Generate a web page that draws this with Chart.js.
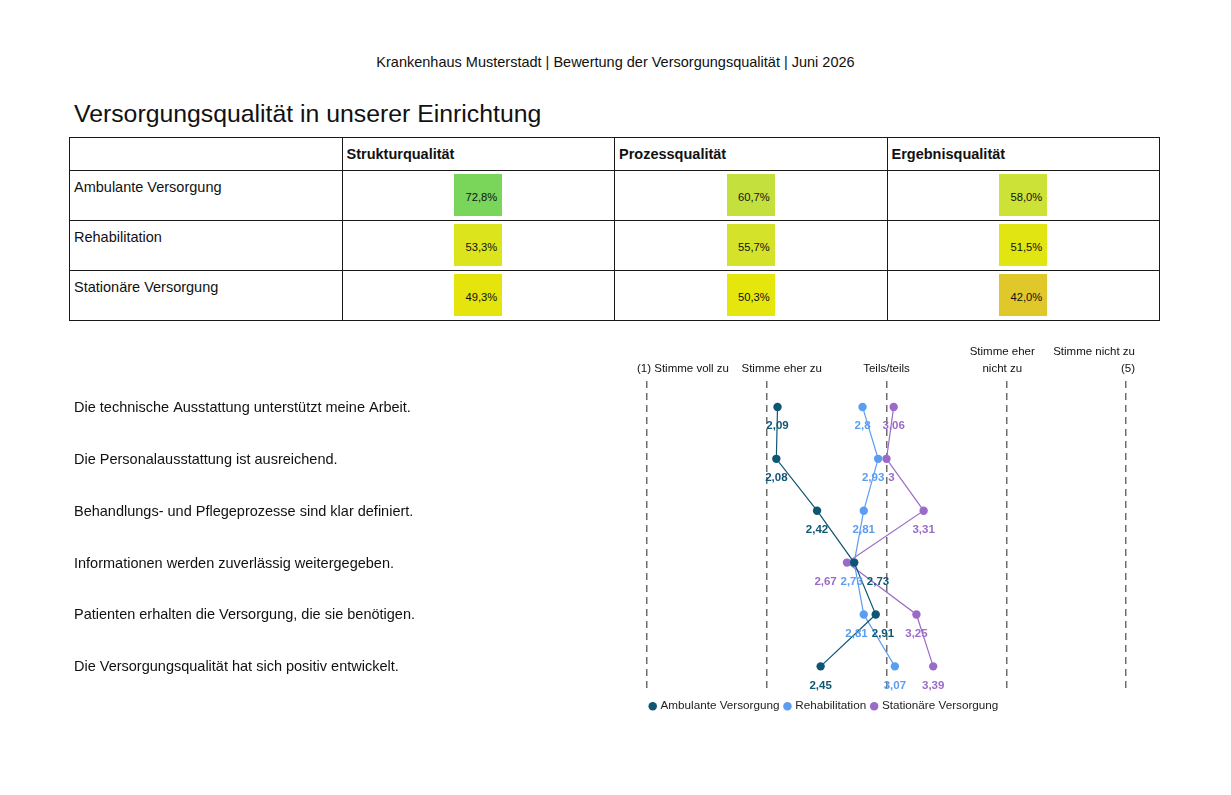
<!DOCTYPE html>
<html lang="de">
<head>
<meta charset="utf-8">
<title>Versorgungsqualität in unserer Einrichtung</title>
<script src="https://cdn.jsdelivr.net/npm/chart.js@4.4.1/dist/chart.umd.min.js"></script>
<style>
  html, body { margin: 0; padding: 0; background: #fff; }
  body { width: 1231px; height: 795px; position: relative; overflow: hidden;
         font-family: "Liberation Sans", Arial, Helvetica, sans-serif; color: #111; }
  #kopf { position: absolute; left: 0; width: 1231px; top: 55px; text-align: center;
          font-size: 14.5px; line-height: 14.5px; }
  #titel { position: absolute; left: 74px; top: 102px; font-size: 24.8px; line-height: 24.8px; }
  #tabelle { position: absolute; left: 69px; top: 137px; width: 1091px;
             border-collapse: collapse; table-layout: fixed; }
  #tabelle th, #tabelle td { border: 1px solid #1a1a1a; padding: 0; font-size: 14.5px; }
  #tabelle tr.kopf { height: 33px; }
  #tabelle tr.zeile { height: 50px; }
  #tabelle th { text-align: left; padding-left: 4px; font-weight: bold; }
  #tabelle td { vertical-align: top; }
  #tabelle td.name { padding: 8px 0 0 4px; }
  .wert { width: 48px; height: 42px; margin: 3px auto 0; box-sizing: border-box;
          padding: 17px 5px 0 0; text-align: right; font-size: 11.2px; line-height: 13px; }
  #diagramm { position: absolute; left: 0; top: 331px; width: 1231px; height: 400px; }
</style>
</head>
<body>
<div id="kopf">Krankenhaus Musterstadt | Bewertung der Versorgungsqualität | Juni 2026</div>
<div id="titel">Versorgungsqualität in unserer Einrichtung</div>
<table id="tabelle"></table>
<div id="diagramm"><canvas id="chart"></canvas></div>

<script>
// Tabelle
var tableRows = ['Ambulante Versorgung', 'Rehabilitation', 'Stationäre Versorgung'];
var tableCols = ['Strukturqualität', 'Prozessqualität', 'Ergebnisqualität'];
var strukturWerte = [72.8, 53.3, 49.3];
var prozessWerte = [60.7, 55.7, 50.3];
var ergebnisWerte = [58.0, 51.5, 42.0];

// Diagramm
var statements = [
    'Die technische Ausstattung unterstützt meine Arbeit.',
    'Die Personalausstattung ist ausreichend.',
    'Behandlungs- und Pflegeprozesse sind klar definiert.',
    'Informationen werden zuverlässig weitergegeben.',
    'Patienten erhalten die Versorgung, die sie benötigen.',
    'Die Versorgungsqualität hat sich positiv entwickelt.'
];
var seriesNames = ['Ambulante Versorgung', 'Rehabilitation', 'Stationäre Versorgung'];
var ambulant = [2.09, 2.08, 2.42, 2.73, 2.91, 2.45];
var rehabilitation = [2.8, 2.93, 2.81, 2.73, 2.81, 3.07];
var stationaer = [3.06, 3, 3.31, 2.67, 3.25, 3.39];
var scaleValues = [1, 2, 3, 4, 5];
var scaleLabels = [
    ['(1) Stimme voll zu'],
    ['Stimme eher zu'],
    ['Teils/teils'],
    ['Stimme eher', 'nicht zu'],
    ['Stimme nicht zu', '(5)']
];

var FONT = '"Liberation Sans", Arial, Helvetica, sans-serif';
var colors = ['#0f5675', '#5b9df0', '#9b6bc9'];

// Farbskala der Prozentwerte
var colorStops = [
    [40, [223, 194, 44]],
    [42, [224, 199, 42]],
    [50, [230, 231, 10]],
    [58, [205, 226, 54]],
    [61, [195, 224, 62]],
    [73, [121, 213, 91]]
];

function cellColor(v) {
    for (var i = 1; i < colorStops.length; i++) {
        if (v <= colorStops[i][0] || i === colorStops.length - 1) {
            var a = colorStops[i - 1], b = colorStops[i];
            var t = Math.max(0, Math.min(1, (v - a[0]) / (b[0] - a[0])));
            var c = a[1].map(function (x, k) { return Math.round(x + (b[1][k] - x) * t); });
            return 'rgb(' + c.join(',') + ')';
        }
    }
}

function fmt(v, digits) {
    var s = digits === undefined ? String(v) : v.toFixed(digits);
    return s.replace('.', ',');
}

function CreateTable(element) {
    var table = document.querySelector(element);
    var cols = [strukturWerte, prozessWerte, ergebnisWerte];
    var html = '<tr class="kopf"><th></th>';
    tableCols.forEach(function (c) { html += '<th>' + c + '</th>'; });
    html += '</tr>';
    tableRows.forEach(function (r, i) {
        html += '<tr class="zeile"><td class="name">' + r + '</td>';
        cols.forEach(function (col) {
            html += '<td><div class="wert" style="background:' + cellColor(col[i]) + '">' +
                fmt(col[i], 1) + '%</div></td>';
        });
        html += '</tr>';
    });
    table.innerHTML = html;
}

// Skalenbeschriftung oben
var topLabelsPlugin = {
    id: 'topLabels',
    afterDraw: function (chart) {
        var x = chart.scales.x, ctx = chart.ctx, top = chart.chartArea.top;
        var shift = [-10, 15, 0, -4, 9];
        ctx.save();
        ctx.font = '11.5px ' + FONT;
        ctx.fillStyle = '#111';
        ctx.textBaseline = 'middle';
        scaleLabels.forEach(function (lines, i) {
            var px = x.getPixelForValue(scaleValues[i]) + shift[i];
            ctx.textAlign = i === 0 ? 'left' : (i === scaleLabels.length - 1 ? 'right' : 'center');
            lines.forEach(function (line, j) {
                ctx.fillText(line, px, top - 12 - (lines.length - 1 - j) * 17);
            });
        });
        ctx.restore();
    }
};

// Wertebeschriftung unter den Punkten, Überlappungen auseinanderschieben
var valueLabelsPlugin = {
    id: 'valueLabels',
    afterDatasetsDraw: function (chart) {
        var ctx = chart.ctx;
        ctx.save();
        ctx.font = 'bold 11.5px ' + FONT;
        ctx.textAlign = 'center';
        ctx.textBaseline = 'middle';
        statements.forEach(function (s, row) {
            var items = chart.data.datasets.map(function (ds, di) {
                var pt = chart.getDatasetMeta(di).data[row];
                var text = fmt(ds.data[row]);
                return { x: pt.x, y: pt.y, w: ctx.measureText(text).width, text: text, color: ds.borderColor, idx: di };
            });
            for (var k = 0; k < 30; k++) {
                items.sort(function (a, b) { return (a.x - b.x) || (b.idx - a.idx); });
                var moved = false;
                for (var i = 0; i < items.length - 1; i++) {
                    var a = items[i], b = items[i + 1];
                    var need = (a.w + b.w) / 2 + 4;
                    var d = b.x - a.x;
                    if (d < need - 0.5) {
                        var m = (need - d) / 2;
                        a.x -= m; b.x += m; moved = true;
                    }
                }
                if (!moved) break;
            }
            items.forEach(function (it) {
                ctx.fillStyle = it.color;
                ctx.fillText(it.text, it.x, it.y + 19);
            });
        });
        ctx.restore();
    }
};

// Legende unter dem Skalenbereich zentrieren
var legendShiftPlugin = {
    id: 'legendShift',
    afterLayout: function (chart) {
        var lg = chart.legend;
        var w = lg.right - lg.left;
        lg.left = 824.5 - w / 2;
        lg.right = lg.left + w;
        lg.top += 2;
        lg.bottom += 2;
    }
};

function CreateRatingChart(element) {
    var values = [ambulant, rehabilitation, stationaer];
    var data = {
        labels: statements,
        datasets: seriesNames.map(function (name, i) {
            return {
                label: name,
                data: values[i],
                borderColor: colors[i],
                backgroundColor: colors[i],
                borderWidth: 1.2,
                pointRadius: 4.2,
                pointHoverRadius: 4.2,
                pointBorderWidth: 0,
                tension: 0
            };
        })
    };

    var config = {
        type: 'line',
        data: data,
        options: {
            indexAxis: 'y',
            responsive: true,
            maintainAspectRatio: false,
            animation: false,
            layout: { padding: { left: 74, right: 105, top: 50, bottom: 11 } },
            scales: {
                x: {
                    type: 'linear',
                    position: 'top',
                    min: 1,
                    max: 5,
                    ticks: { stepSize: 1, display: false },
                    grid: { color: '#6e6e6e', lineWidth: 1.5, drawTicks: false },
                    border: { display: false, dash: [7, 5] }
                },
                y: {
                    type: 'category',
                    offset: true,
                    grid: { display: false },
                    border: { display: false },
                    ticks: {
                        crossAlign: 'far',
                        padding: 0,
                        color: '#111',
                        labelOffset: 1,
                        font: { size: 14.5 }
                    },
                    afterFit: function (scale) { scale.width = 573; }
                }
            },
            plugins: {
                legend: {
                    position: 'bottom',
                    labels: {
                        usePointStyle: true,
                        pointStyle: 'circle',
                        boxWidth: 4,
                        boxHeight: 6,
                        padding: 6,
                        color: '#222',
                        font: { size: 11.7 }
                    }
                },
                tooltip: { enabled: false }
            }
        },
        plugins: [topLabelsPlugin, valueLabelsPlugin, legendShiftPlugin]
    };

    var ctx = document.querySelector(element);
    return new Chart(ctx, config);
}

Chart.defaults.font.family = FONT;
Chart.defaults.color = '#111';
CreateTable('#tabelle');
CreateRatingChart('#chart');
</script>
</body>
</html>
